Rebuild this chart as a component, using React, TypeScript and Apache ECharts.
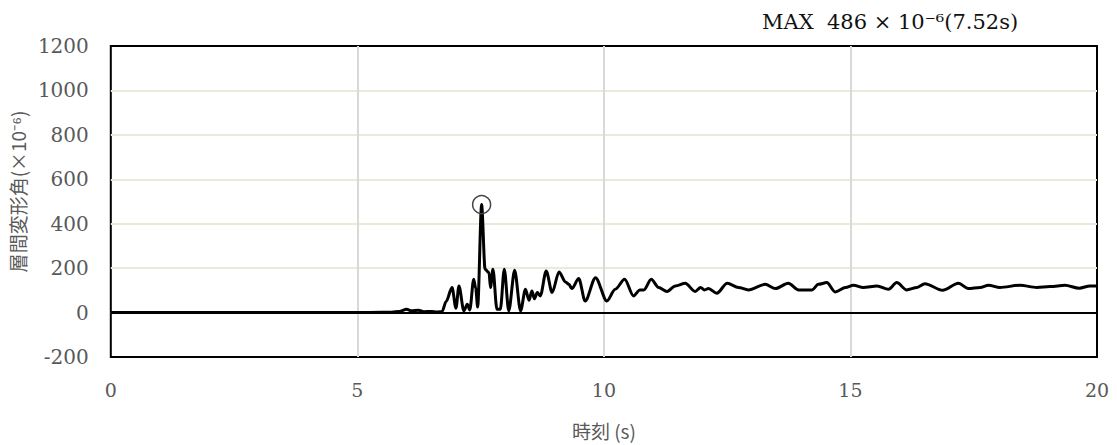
import React, { useEffect, useRef } from "react";
import * as echarts from "echarts";

const times = [
  0, 5.0, 5.5, 5.7, 5.85, 6.0, 6.1, 6.24, 6.35, 6.5, 6.62, 6.72, 6.8, 6.92, 7.0, 7.06, 7.16, 7.23, 7.28,
  7.36, 7.4, 7.44, 7.52, 7.59, 7.67, 7.7, 7.75, 7.83, 7.9, 7.98, 8.07, 8.19, 8.31, 8.41, 8.48, 8.54,
  8.59, 8.65, 8.71, 8.83, 8.95, 9.09, 9.22, 9.29, 9.35, 9.49, 9.62, 9.83, 10.06, 10.23, 10.42, 10.6,
  10.73, 10.81, 10.96, 11.11, 11.28, 11.45, 11.65, 11.85, 11.96, 12.04, 12.12, 12.29, 12.5, 12.73,
  12.93, 13.27, 13.48, 13.74, 13.95, 14.22, 14.35, 14.52, 14.69, 14.9, 15.06, 15.26, 15.54, 15.77,
  15.94, 16.14, 16.35, 16.51, 16.87, 17.19, 17.39, 17.63, 17.8, 18.03, 18.44, 18.78, 19.05, 19.35,
  19.64, 19.86, 20.0,
];
const drift = [
  0, 0, 1, 2, 5, 15, 8, 10, 4, 5, 3, 5, 50, 113, 20, 120, 8, 38, 12,
  150, 110, 25, 486, 195, 180, 113, 195, 15, 15, 195, 8, 190, 8, 105, 55, 97,
  62, 90, 75, 187, 90, 183, 138, 127, 108, 153, 52, 157, 52, 105, 150, 75,
  102, 102, 150, 113, 95, 120, 132, 95, 113, 102, 108, 87, 132, 113,
  102, 127, 108, 132, 102, 102, 127, 135, 93, 113, 123, 113, 120, 105,
  135, 102, 113, 130, 100, 132, 108, 113, 123, 113, 123, 113, 117, 123,
  110, 120, 120,
];
const peakTime = 7.52;
const peakValue = 486;
const yTicks = { min: -200, max: 1200, interval: 200 };
const xTicks = { min: 0, max: 20, interval: 5 };
const titleText = "MAX  486 × 10⁻⁶(7.52s)";
const yName = "層間変形角(×10⁻⁶)";
const xName = "時刻 (s)";

export default function App() {
  const ref = useRef<HTMLDivElement>(null);
  useEffect(() => {
    if (!ref.current) return;
    const chart = echarts.init(ref.current, null, { renderer: "svg" });
    const serif = "'DejaVu Serif', 'Liberation Serif', serif";
    chart.setOption({
      animation: false,
      backgroundColor: "#ffffff",
      title: {
        text: titleText,
        left: 757,
        top: 6,
        textStyle: { fontFamily: serif, fontSize: 21, fontWeight: "normal", color: "#111" },
      },
      grid: {
        left: 110,
        right: 20,
        top: 46,
        bottom: 87,
        show: true,
        borderColor: "#000",
        borderWidth: 2,
        backgroundColor: "transparent",
      },
      xAxis: {
        type: "value",
        min: xTicks.min,
        max: xTicks.max,
        interval: xTicks.interval,
        name: xName,
        nameLocation: "middle",
        nameGap: 64,
        nameTextStyle: { fontFamily: "'Noto Sans CJK JP', sans-serif", fontSize: 19, color: "#595959" },
        axisLine: { show: false, onZero: false },
        axisTick: { show: false },
        axisLabel: { margin: 24, fontFamily: serif, fontSize: 19, color: "#595959" },
        splitLine: { show: true, showMinLine: false, showMaxLine: false, lineStyle: { color: "#d9d9d9", width: 2 } },
      },
      yAxis: {
        type: "value",
        min: yTicks.min,
        max: yTicks.max,
        interval: yTicks.interval,
        name: yName,
        nameLocation: "middle",
        nameGap: 74,
        nameTextStyle: { fontFamily: "'Noto Sans CJK JP', sans-serif", fontSize: 19, color: "#595959", padding: [0, 0, 0, 20] },
        axisLine: { show: false },
        axisTick: { show: false },
        axisLabel: {
          margin: 22,
          fontFamily: serif,
          fontSize: 20,
          color: "#595959",
          formatter: (v: number) => String(v),
        },
        splitLine: { show: true, showMinLine: false, showMaxLine: false, lineStyle: { color: "#ece8da", width: 2 } },
      },
      series: [
        {
          type: "line",
          data: times.map((t, i) => [t, drift[i]]),
          showSymbol: false,
          smooth: 0.3,
          smoothMonotone: "x",
          lineStyle: { color: "#000", width: 3 },
          markLine: {
            silent: true,
            symbol: "none",
            label: { show: false },
            lineStyle: { color: "#000", width: 2, type: "solid" },
            data: [{ yAxis: 0 }],
          },
          markPoint: {
            silent: true,
            symbol: "circle",
            symbolSize: 18,
            label: { show: false },
            itemStyle: { color: "rgba(0,0,0,0)", borderColor: "#444", borderWidth: 1.5 },
            data: [{ coord: [peakTime, peakValue] }],
          },
        },
      ],
    });
    return () => chart.dispose();
  }, []);
  return (
    <div
      ref={ref}
      style={{ position: "fixed", left: 0, top: 0, width: 1117, height: 445 }}
    />
  );
}
